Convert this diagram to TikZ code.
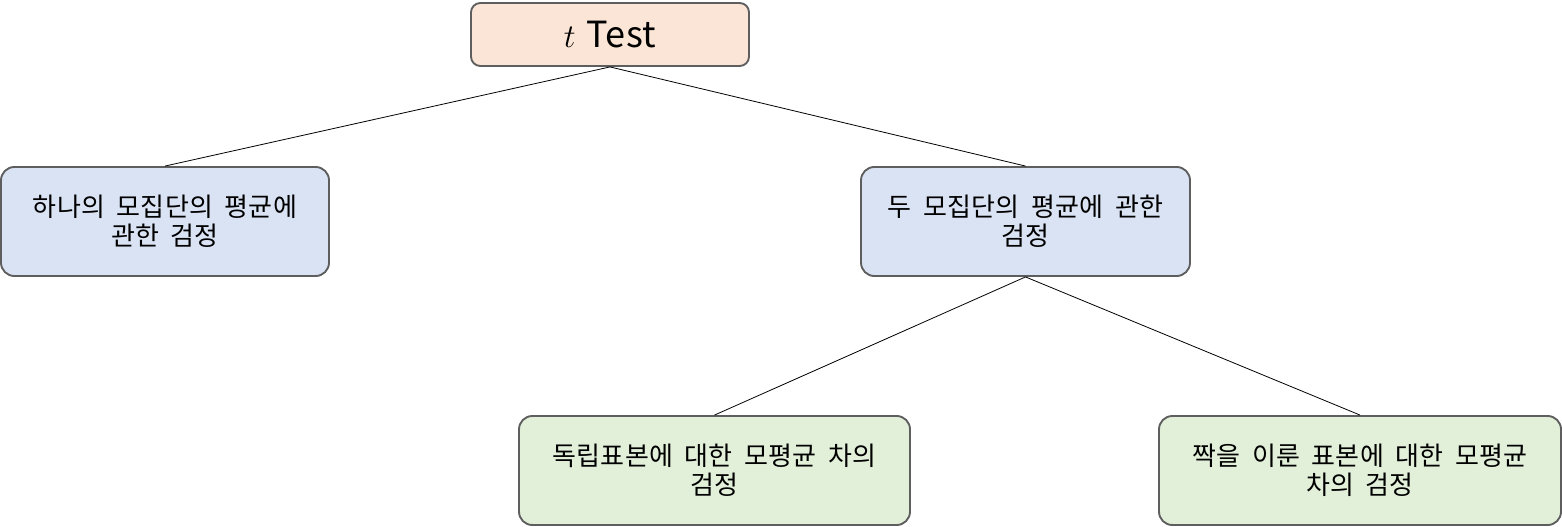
\documentclass[tikz,border=0pt]{standalone}
\usepackage{fontspec}
\setmainfont{Noto Sans CJK KR}[WordSpace=1.9, LetterSpace=1]
\usepackage{xcolor}
\definecolor{boxgray}{HTML}{5E5E5E}
\definecolor{peach}{HTML}{FBE5D6}
\definecolor{paleblue}{HTML}{DAE3F3}
\definecolor{palegreen}{HTML}{E2F0D9}

\begin{document}
\begin{tikzpicture}[x=0.75pt, y=-0.75pt, every node/.style={font=\fontsize{19.5}{22}\selectfont},
		box/.style={draw=boxgray, line width=1.4pt, rounded corners=10pt, align=center, inner sep=0pt},
		edge/.style={line width=0.6pt}]
		\useasboundingbox (0,0) rectangle (1562,527);
		% 맨 위
		\node[box, fill=peach, rounded corners=7pt, minimum width=208.5pt, minimum height=47.25pt,
			font=\fontsize{27}{30}\selectfont] (ttest) at (610,34.5) {$t$\hspace{0.3em}Test};
		% 둘째 줄
		\node[box, fill=paleblue, minimum width=246pt, minimum height=81.75pt] (one) at (165,221.5) {하나의 모집단의 평균에\\관한 검정};
		\node[box, fill=paleblue, minimum width=246.75pt, minimum height=81.75pt] (two) at (1025.5,221.5) {두 모집단의 평균에 관한\\검정};
		% 셋째 줄
		\node[box, fill=palegreen, minimum width=293.25pt, minimum height=81.75pt] (indep) at (714.5,470.5) {독립표본에 대한 모평균 차의\\검정};
		\node[box, fill=palegreen, minimum width=301.5pt, minimum height=81.75pt] (paired) at (1360,470.5) {짝을 이룬 표본에 대한 모평균\\차의 검정};
		\draw[edge] (ttest.south) -- (one.north);
		\draw[edge] (ttest.south) -- (two.north);
		\draw[edge] (two.south) -- (indep.north);
		\draw[edge] (two.south) -- (paired.north);
	\end{tikzpicture}
\end{document}
